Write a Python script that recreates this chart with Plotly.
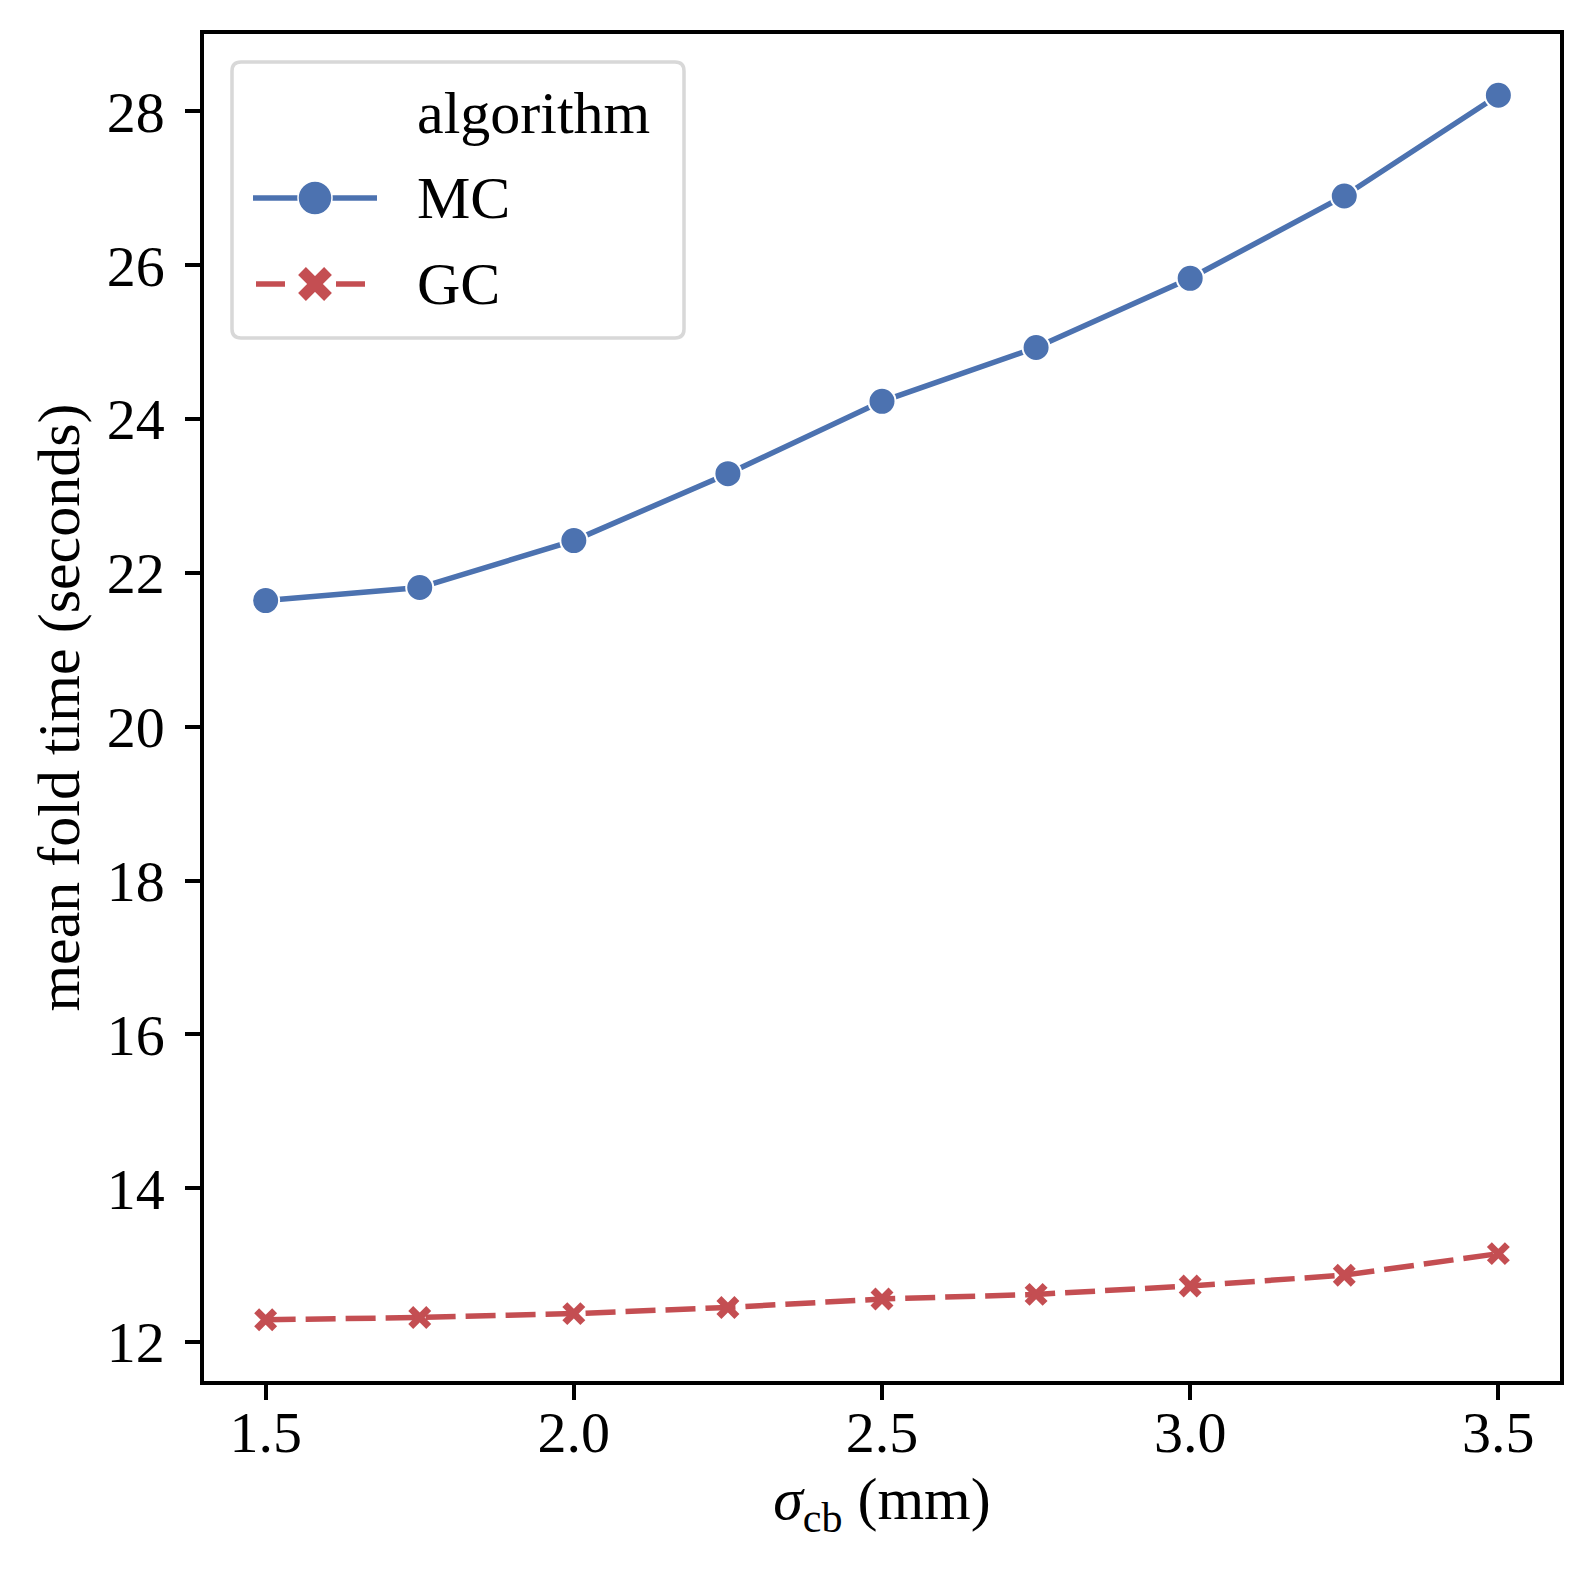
from plotly import graph_objects as go

# sigma_cb values (mm)
sigma_cb = [1.5, 1.75, 2.0, 2.25, 2.5, 2.75, 3.0, 3.25, 3.5]

# mean fold time (seconds) per algorithm
mc_time = [21.64, 21.81, 22.42, 23.29, 24.23, 24.93, 25.83, 26.90, 28.21]
gc_time = [12.29, 12.32, 12.37, 12.45, 12.56, 12.62, 12.73, 12.87, 13.15]

x_ticks = [1.5, 2.0, 2.5, 3.0, 3.5]
y_ticks = [12, 14, 16, 18, 20, 22, 24, 26, 28]

legend_title = "algorithm"
legend_names = ["MC", "GC"]

BLUE = "#4C72B0"
RED = "#C44E52"
FONT = "Liberation Serif"

# page body has an 8px margin, so the figure is a bit smaller than the window
W, H = 1578, 1564
ML, MR, MT, MB = 196, 26, 26, 191
PW, PH = W - ML - MR, H - MT - MB

# matplotlib-like 5% padding around the data
all_y = mc_time + gc_time
ypad = (max(all_y) - min(all_y)) * 0.05
xpad = (max(sigma_cb) - min(sigma_cb)) * 0.05

fig = go.Figure()
fig.add_trace(go.Scatter(x=sigma_cb, y=mc_time, mode="lines+markers", name="MC",
                         line=dict(color=BLUE, width=5.5),
                         marker=dict(symbol="circle", size=27, color=BLUE,
                                     line=dict(color="white", width=2))))
fig.add_trace(go.Scatter(x=sigma_cb, y=gc_time, mode="lines+markers", name="GC",
                         line=dict(color=RED, width=5.5, dash="30px,10px"),
                         marker=dict(symbol="x-thin", size=18, color=RED,
                                     line=dict(color=RED, width=7))))

axis_common = dict(
    showline=True, linecolor="black", linewidth=3.5, mirror=True,
    ticks="outside", ticklen=15, tickwidth=3.5, tickcolor="black",
    showgrid=False, zeroline=False,
    tickfont=dict(family=FONT, size=58, color="black"),
)

fig.update_xaxes(**axis_common, tickvals=x_ticks, ticklabelstandoff=-17,
                 ticktext=[f"{v:.1f}" for v in x_ticks],
                 range=[min(sigma_cb) - xpad, max(sigma_cb) + xpad],
                 title=dict(text="<i>σ</i><sub>cb</sub> (mm)", standoff=14,
                            font=dict(family=FONT, size=60, color="black")))
fig.update_yaxes(**axis_common, tickvals=y_ticks, ticklabelstandoff=9,
                 range=[min(all_y) - ypad, max(all_y) + ypad],
                 title=dict(text="mean fold time (seconds)", standoff=9,
                            font=dict(family=FONT, size=60, color="black")))

# hand-made legend (seaborn style), anchored at its top-left corner
ax0 = (224 - ML) / PW
ay0 = 1 - (54 - MT) / PH
pix = dict(xref="paper", yref="paper", xsizemode="pixel", ysizemode="pixel",
           xanchor=ax0, yanchor=ay0)

bw, bh, r = 452, 276, 9
box_path = (f"M {r},0 L {bw - r},0 Q {bw},0 {bw},{-r} L {bw},{-bh + r} "
            f"Q {bw},{-bh} {bw - r},{-bh} L {r},{-bh} Q 0,{-bh} 0,{-bh + r} "
            f"L 0,{-r} Q 0,0 {r},0 Z")
shapes = [dict(type="path", path=box_path, fillcolor="white",
               line=dict(color="#D8D8D8", width=3.5), layer="above", **pix)]

# MC handle: solid line with a big circle
yMC, yGC = -136, -222
shapes.append(dict(type="line", x0=21, x1=145, y0=yMC, y1=yMC,
                   line=dict(color=BLUE, width=5.5), layer="above", **pix))
shapes.append(dict(type="circle", x0=83 - 17, x1=83 + 17, y0=yMC - 17, y1=yMC + 17,
                   fillcolor=BLUE, line=dict(color="white", width=1.5),
                   layer="above", **pix))
# GC handle: dashed line with a bold X
for xa, xb in [(24, 53), (104, 133)]:
    shapes.append(dict(type="line", x0=xa, x1=xb, y0=yGC, y1=yGC,
                       line=dict(color=RED, width=5.5), layer="above", **pix))
for d in (1, -1):
    shapes.append(dict(type="line", x0=83 - 13, x1=83 + 13,
                       y0=yGC - 13 * d, y1=yGC + 13 * d,
                       line=dict(color=RED, width=11), layer="above", **pix))

annotations = []
for label, dy in zip([legend_title] + legend_names, [-51, yMC, yGC]):
    annotations.append(dict(text=label, xref="paper", yref="paper", x=ax0, y=ay0,
                            xanchor="left", yanchor="middle", xshift=183, yshift=dy,
                            showarrow=False,
                            font=dict(family=FONT, size=60, color="black")))

fig.update_layout(
    width=W, height=H,
    margin=dict(l=ML, r=MR, t=MT, b=MB),
    paper_bgcolor="white", plot_bgcolor="white",
    font=dict(family=FONT, size=58, color="black"),
    showlegend=False,
    shapes=shapes,
    annotations=annotations,
)

fig.write_html("out.html")
